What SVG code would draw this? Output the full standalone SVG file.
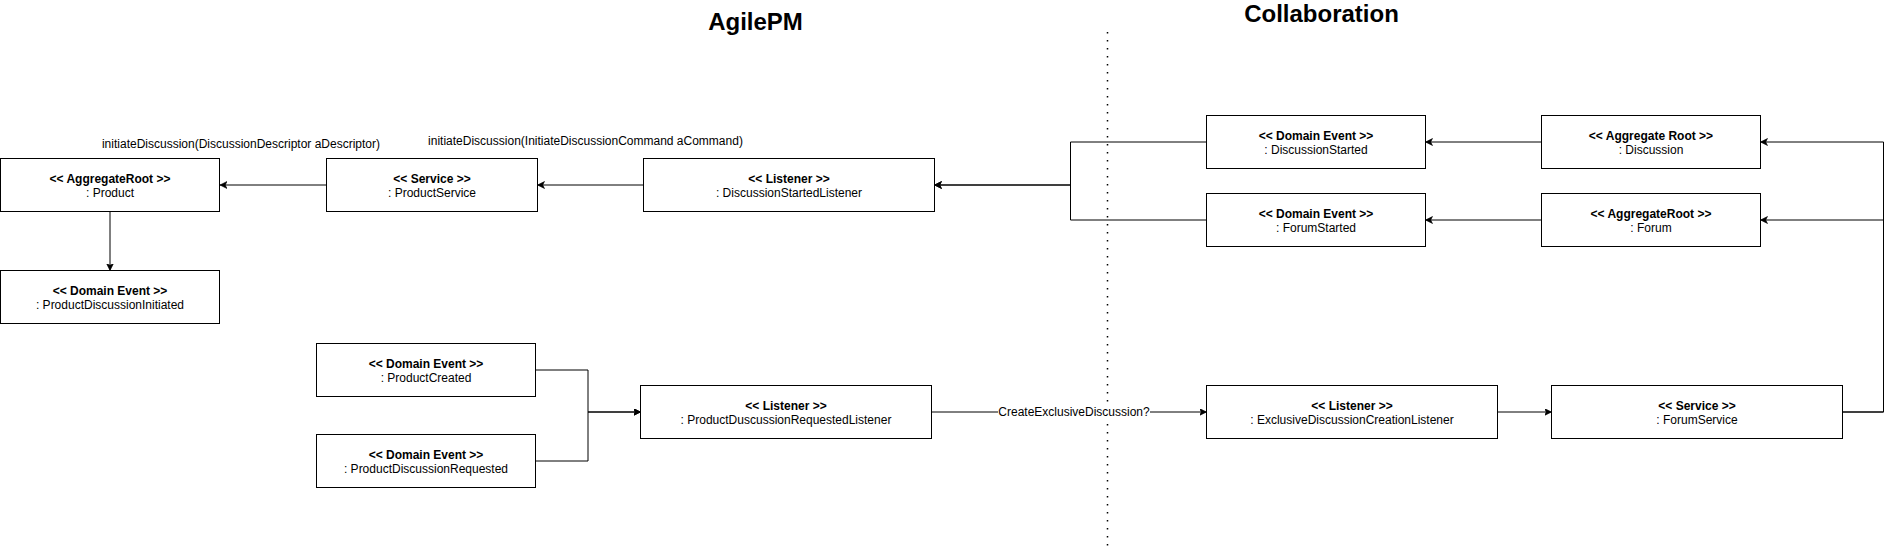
<svg xmlns="http://www.w3.org/2000/svg" width="1892" height="548" viewBox="0 0 1892 548">
<style>
  .box rect { fill: #ffffff; stroke: #000000; stroke-width: 1; }
  .box text, .lbl { font-family: "Liberation Sans", Arial, Helvetica, sans-serif; font-size: 12px; fill: #000000; text-anchor: middle; }
  .box .st { font-weight: bold; }
  .title { font-family: "Liberation Sans", Arial, Helvetica, sans-serif; font-size: 24px; font-weight: bold; fill: #000000; text-anchor: middle; }
  .edge { fill: none; stroke: #000000; stroke-width: 1; }
  .arr { marker-end: url(#arrow); }
</style>
<defs>
  <marker id="arrow" markerUnits="userSpaceOnUse" markerWidth="10" markerHeight="10" refX="7" refY="3.5" orient="auto">
    <path d="M0,0 L7,3.5 L0,7 L1.8,3.5 Z" fill="#000000" stroke="#000000" stroke-width="0.6"/>
  </marker>
</defs>
<rect width="1892" height="548" fill="#ffffff"/>

<g id="titles">
  <text class="title" x="755.5" y="30">AgilePM</text>
  <text class="title" x="1321.5" y="22">Collaboration</text>
</g>

<g id="divider">
  <line x1="1107.5" y1="32" x2="1107.5" y2="548" stroke="#000000" stroke-width="1.5" stroke-dasharray="1.5 6.5"/>
</g>

<g id="connectors">
  <path class="edge arr" d="M326,185 H220"/>
  <path class="edge arr" d="M643.5,185 H537.5"/>
  <path class="edge arr" d="M110,211.5 V270.5"/>
  <path class="edge arr" d="M1206.5,142 H1070.5 V185 H934.5"/>
  <path class="edge arr" d="M1206.5,220 H1070.5 V185 H934.5"/>
  <path class="edge arr" d="M1541.5,142 H1425.5"/>
  <path class="edge arr" d="M1541.5,220 H1425.5"/>
  <path class="edge arr" d="M1842.5,412 H1883.5 V142 H1760.5"/>
  <path class="edge arr" d="M1842.5,412 H1883.5 V220 H1760.5"/>
  <path class="edge arr" d="M535.5,370 H588 V412 H640.5"/>
  <path class="edge arr" d="M535.5,461 H588 V412 H640.5"/>
  <path class="edge arr" d="M931.5,412 H1206.5"/>
  <path class="edge arr" d="M1497.5,412 H1551.5"/>
  <rect x="998" y="405" width="152" height="14" fill="#ffffff"/>
  <text class="lbl" x="1074" y="416">CreateExclusiveDiscussion?</text>
  <text class="lbl" x="241" y="147.5">initiateDiscussion(DiscussionDescriptor aDescriptor)</text>
  <text class="lbl" x="585.5" y="145">initiateDiscussion(InitiateDiscussionCommand aCommand)</text>
</g>

<g id="product" class="box">
  <rect x="0.5" y="158.5" width="219" height="53"/>
  <text class="st" x="110" y="182.5">&lt;&lt; AggregateRoot &gt;&gt;</text>
  <text x="110" y="196.5">: Product</text>
</g>
<g id="productDiscussionInitiated" class="box">
  <rect x="0.5" y="270.5" width="219" height="53"/>
  <text class="st" x="110" y="294.5">&lt;&lt; Domain Event &gt;&gt;</text>
  <text x="110" y="308.5">: ProductDiscussionInitiated</text>
</g>
<g id="productService" class="box">
  <rect x="326.5" y="158.5" width="211" height="53"/>
  <text class="st" x="432" y="182.5">&lt;&lt; Service &gt;&gt;</text>
  <text x="432" y="196.5">: ProductService</text>
</g>
<g id="discussionStartedListener" class="box">
  <rect x="643.5" y="158.5" width="291" height="53"/>
  <text class="st" x="789" y="182.5">&lt;&lt; Listener &gt;&gt;</text>
  <text x="789" y="196.5">: DiscussionStartedListener</text>
</g>
<g id="discussionStarted" class="box">
  <rect x="1206.5" y="115.5" width="219" height="53"/>
  <text class="st" x="1316" y="139.5">&lt;&lt; Domain Event &gt;&gt;</text>
  <text x="1316" y="153.5">: DiscussionStarted</text>
</g>
<g id="forumStarted" class="box">
  <rect x="1206.5" y="193.5" width="219" height="53"/>
  <text class="st" x="1316" y="217.5">&lt;&lt; Domain Event &gt;&gt;</text>
  <text x="1316" y="231.5">: ForumStarted</text>
</g>
<g id="discussion" class="box">
  <rect x="1541.5" y="115.5" width="219" height="53"/>
  <text class="st" x="1651" y="139.5">&lt;&lt; Aggregate Root &gt;&gt;</text>
  <text x="1651" y="153.5">: Discussion</text>
</g>
<g id="forum" class="box">
  <rect x="1541.5" y="193.5" width="219" height="53"/>
  <text class="st" x="1651" y="217.5">&lt;&lt; AggregateRoot &gt;&gt;</text>
  <text x="1651" y="231.5">: Forum</text>
</g>
<g id="productCreated" class="box">
  <rect x="316.5" y="343.5" width="219" height="53"/>
  <text class="st" x="426" y="367.5">&lt;&lt; Domain Event &gt;&gt;</text>
  <text x="426" y="381.5">: ProductCreated</text>
</g>
<g id="productDiscussionRequested" class="box">
  <rect x="316.5" y="434.5" width="219" height="53"/>
  <text class="st" x="426" y="458.5">&lt;&lt; Domain Event &gt;&gt;</text>
  <text x="426" y="472.5">: ProductDiscussionRequested</text>
</g>
<g id="productDuscussionRequestedListener" class="box">
  <rect x="640.5" y="385.5" width="291" height="53"/>
  <text class="st" x="786" y="409.5">&lt;&lt; Listener &gt;&gt;</text>
  <text x="786" y="423.5">: ProductDuscussionRequestedListener</text>
</g>
<g id="exclusiveDiscussionCreationListener" class="box">
  <rect x="1206.5" y="385.5" width="291" height="53"/>
  <text class="st" x="1352" y="409.5">&lt;&lt; Listener &gt;&gt;</text>
  <text x="1352" y="423.5">: ExclusiveDiscussionCreationListener</text>
</g>
<g id="forumService" class="box">
  <rect x="1551.5" y="385.5" width="291" height="53"/>
  <text class="st" x="1697" y="409.5">&lt;&lt; Service &gt;&gt;</text>
  <text x="1697" y="423.5">: ForumService</text>
</g>
</svg>
